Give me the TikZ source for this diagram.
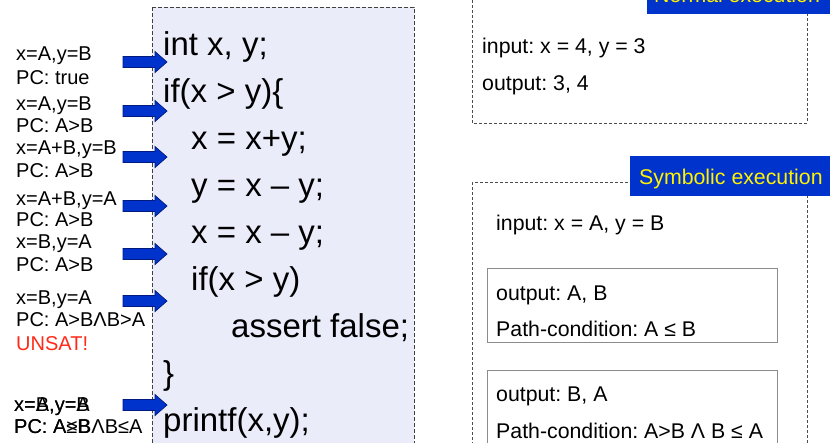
\documentclass[tikz,border=0pt]{standalone}
\usepackage{fontspec}
\setmainfont{Liberation Sans}
\frenchspacing
\definecolor{lavender}{HTML}{EBECFA}
\definecolor{arrowblue}{HTML}{0033CC}
\definecolor{arrowedge}{HTML}{001A80}
\definecolor{titleblue}{HTML}{0033CC}
\definecolor{unsatred}{HTML}{FF2A1A}
\begin{document}
\begin{tikzpicture}[x=1pt,y=-1pt,
  codebox/.style={draw=black!75, dash pattern=on 4pt off 2pt, fill=lavender, line width=0.8pt},
  sidebox/.style={draw=black!70, dash pattern=on 3pt off 2pt, line width=0.8pt},
  innerbox/.style={draw=black!45, line width=0.7pt},
  code/.style={anchor=base west, inner sep=0pt, font=\fontsize{33}{39}\selectfont},
  lbl/.style={anchor=base west, inner sep=0pt, font=\fontsize{20}{24}\selectfont},
  rtxt/.style={anchor=base west, inner sep=0pt, font=\fontsize{21.3}{25}\selectfont},
  ttxt/.style={anchor=base west, inner sep=0pt, text=yellow, font=\fontsize{21.3}{25}\selectfont},
  blockarrow/.pic={\filldraw[fill=arrowblue, draw=arrowedge, line width=0.7pt]
     (0,-5.5) -- (32,-5.5) -- (32,-10.5) -- (44,0) -- (32,10.5) -- (32,5.5) -- (0,5.5) -- cycle;}
]
\useasboundingbox (0,0) rectangle (830,442);

% code box
\draw[codebox] (152,7) rectangle (414,470);
\node[code] (c1) at (163,55) {int x, y;};
\node[code] (c2) at (163,102) {if(x > y)\{};
\node[code] (c3) at (191,149) {x = x+y;};
\node[code] (c4) at (191,196) {y = x – y;};
\node[code] (c5) at (191,243) {x = x – y;};
\node[code] (c6) at (191,290) {if(x > y)};
\node[code] (c7) at (231,337) {assert false;};
\node[code] (c8) at (163,384) {\}};
\node[code] (c9) at (163,431) {printf(x,y);};

% arrows
\pic at (123,62) {blockarrow};
\pic at (123,111) {blockarrow};
\pic at (123,157) {blockarrow};
\pic at (123,206) {blockarrow};
\pic at (123,254) {blockarrow};
\pic at (123,301) {blockarrow};
\pic at (123,405) {blockarrow};

% left labels
\node[lbl] (l1) at (16,60) {x=A,y=B};
\node[lbl] (l2) at (16,84) {PC: true};
\node[lbl] (l3) at (16,110) {x=A,y=B};
\node[lbl] (l4) at (16,132) {PC: A>B};
\node[lbl] (l5) at (16,154) {x=A+B,y=B};
\node[lbl] (l6) at (16,177) {PC: A>B};
\node[lbl] (l7) at (16,205) {x=A+B,y=A};
\node[lbl] (l8) at (16,226) {PC: A>B};
\node[lbl] (l9) at (16,248) {x=B,y=A};
\node[lbl] (l10) at (16,271) {PC: A>B};
\node[lbl] (l11) at (16,304) {x=B,y=A};
\node[lbl] (l12) at (16,326) {PC: A>BΛB>A};
\node[lbl, text=unsatred] (l13) at (16,350) {UNSAT!};
\node[lbl] (l14a) at (14,411) {x=A,y=B};
\node[lbl] (l14b) at (14,411) {x=B,y=A};
\node[lbl] (l15a) at (14,433) {PC: A≤B};
\node[lbl] (l15b) at (14,433) {PC: A>BΛB≤A};

% normal execution
\draw[sidebox] (472,-20) rectangle (807,123);
\fill[titleblue] (647,-30) rectangle (840,14);
\node[ttxt] (nt) at (654,2) {Normal execution};
\node[rtxt] (n1) at (482,53) {input: x = 4, y = 3};
\node[rtxt] (n2) at (482,90) {output: 3, 4};

% symbolic execution
\draw[sidebox] (472,182) rectangle (807,470);
\fill[titleblue] (630,156) rectangle (840,196);
\node[ttxt] (st) at (639,184) {Symbolic execution};
\node[rtxt] (s1) at (496,230) {input: x = A, y = B};
\draw[innerbox] (487,268) rectangle (777,342);
\node[rtxt] (s2) at (496,300) {output: A, B};
\node[rtxt] (s3) at (496,336) {Path-condition: A ≤ B};
\draw[innerbox] (487,370) rectangle (777,470);
\node[rtxt] (s4) at (496,401) {output: B, A};
\node[rtxt] (s5) at (496,438) {Path-condition: A>B Λ B ≤ A};
\end{tikzpicture}
\end{document}
